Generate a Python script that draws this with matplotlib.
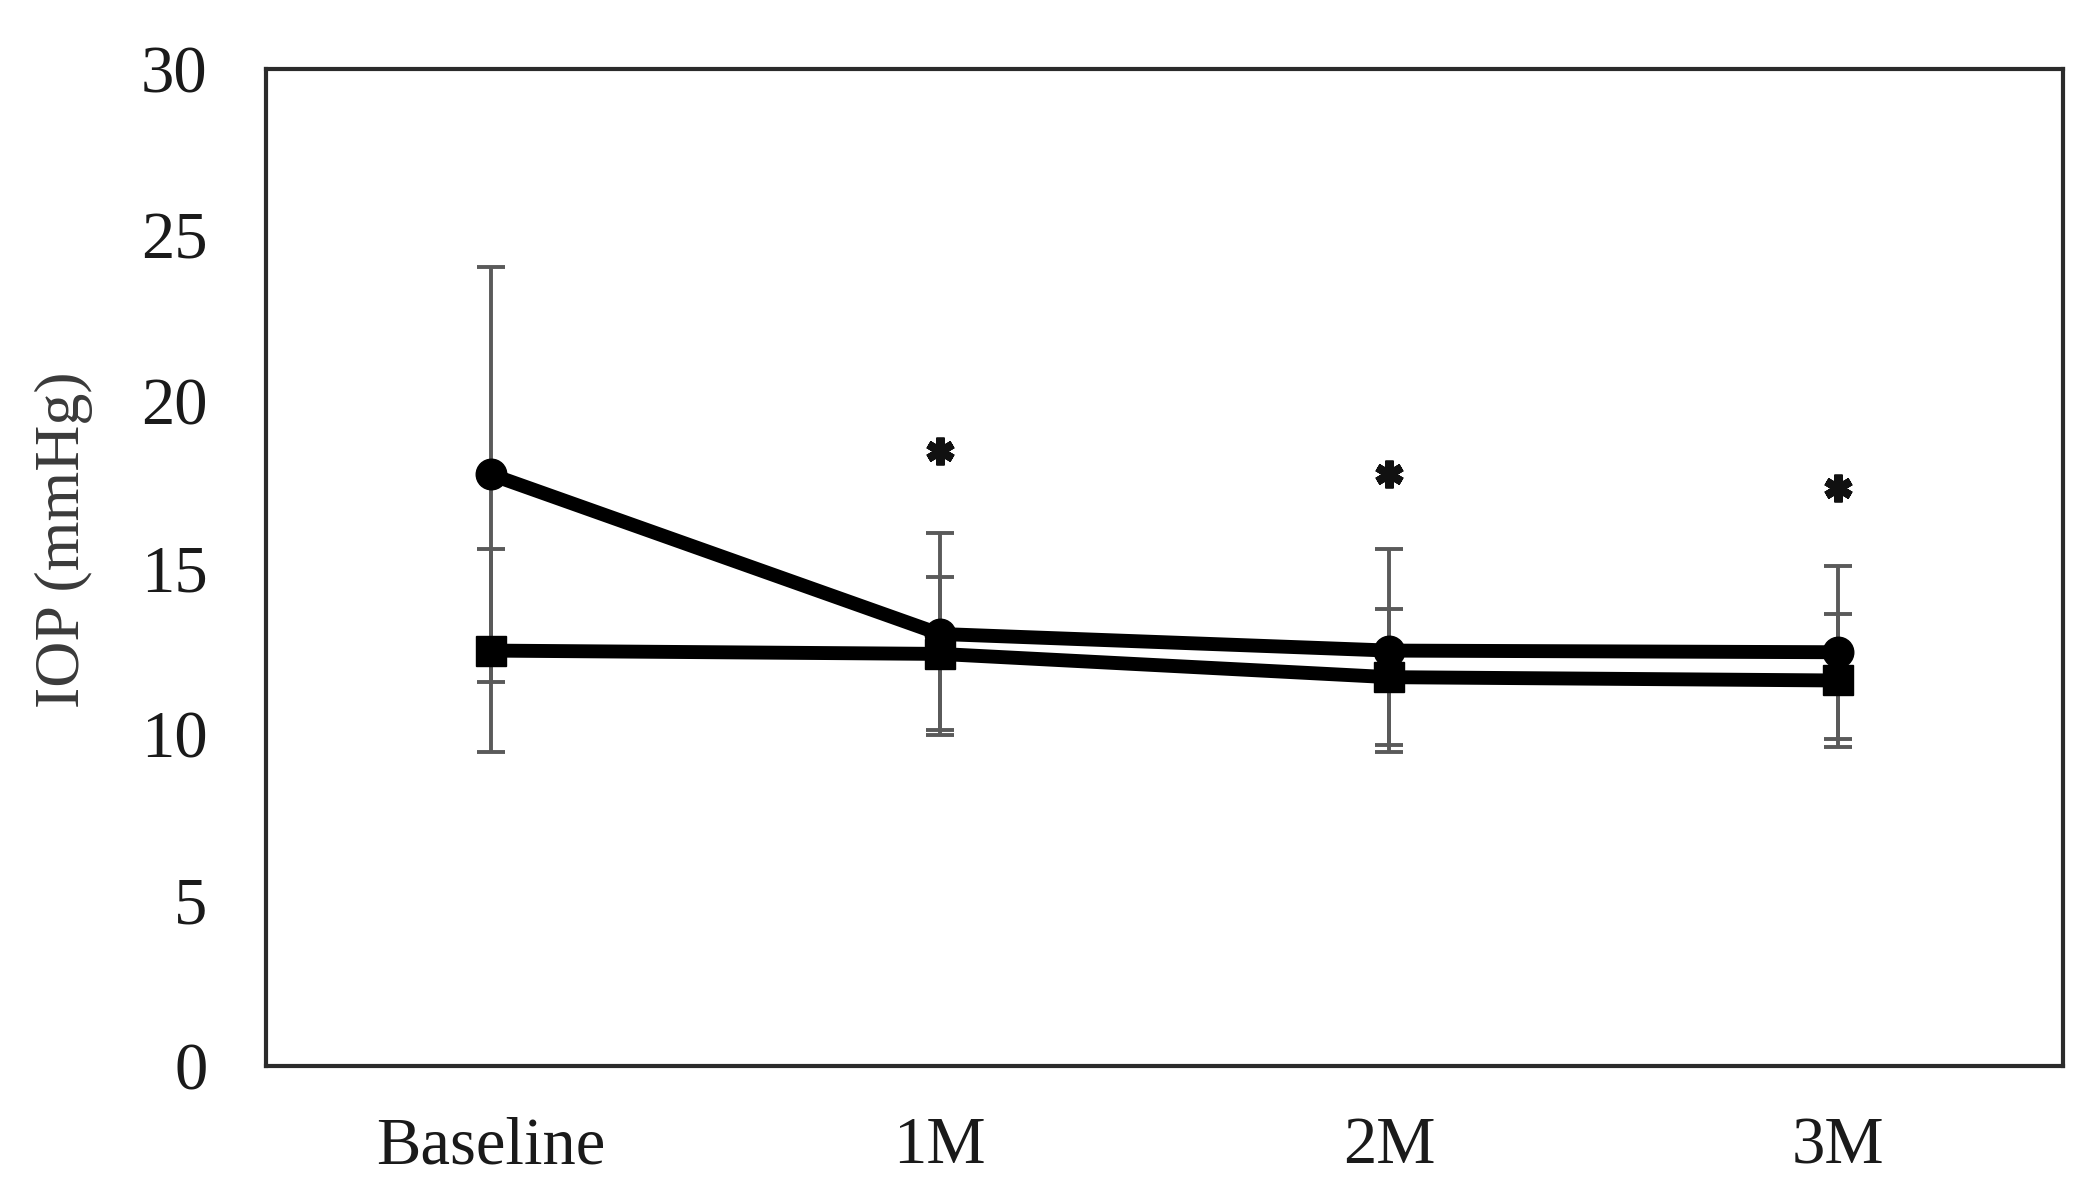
import matplotlib
matplotlib.use("Agg")
import matplotlib.pyplot as plt

categories = ["Baseline", "1M", "2M", "3M"]
circle_mean = [17.8, 13.0, 12.5, 12.45]
circle_sd = [6.25, 3.05, 3.05, 2.6]
square_mean = [12.5, 12.4, 11.7, 11.6]
square_sd = [3.05, 2.3, 2.05, 2.0]
star_pos = [1, 2, 3]
star_y = [18.5, 17.8, 17.4]
yticks = [0, 5, 10, 15, 20, 25, 30]

plt.rcParams['font.family'] = ['Liberation Serif', 'DejaVu Serif']

W, H = 2090, 1198
fig = plt.figure(figsize=(W / 100, H / 100), dpi=100)
ax = fig.add_axes([266 / W, (H - 1066) / H, (2063 - 266) / W, (1066 - 69) / H])

x = list(range(len(categories)))
err_kw = dict(ecolor="#5a5a5a", elinewidth=2.8, capsize=10, capthick=2.8)

ax.errorbar(x, circle_mean, yerr=circle_sd, fmt='none', zorder=2, **err_kw)
ax.errorbar(x, square_mean, yerr=square_sd, fmt='none', zorder=2, **err_kw)
ax.plot(x, circle_mean, color='black', lw=10, marker='o', ms=22,
        solid_capstyle='round', zorder=3)
ax.plot(x, square_mean, color='black', lw=10, marker='s', ms=21,
        solid_capstyle='butt', zorder=3)
ax.plot(star_pos, star_y, ls='none', marker=(6, 2, 0), ms=20, mew=6,
        color='#111111', zorder=3)

ax.set_xlim(-0.5, 3.5)
ax.set_ylim(0, 30)
ax.set_yticks(yticks)
ax.set_yticklabels([str(v) for v in yticks])
ax.set_xticks(x)
ax.set_xticklabels(categories)
ax.tick_params(axis='both', length=0, labelsize=48, colors='#1a1a1a')
ax.tick_params(axis='y', pad=42)
ax.tick_params(axis='x', pad=36)

for s in ax.spines.values():
    s.set_linewidth(3.0)
    s.set_color('#2b2b2b')

ax.set_ylabel("IOP (mmHg)", fontsize=46, color='#3a3a3a')
ax.yaxis.set_label_coords(93 / W, (H - 540) / H, transform=fig.transFigure)

fig.savefig("out.png", dpi=100, facecolor='white')
